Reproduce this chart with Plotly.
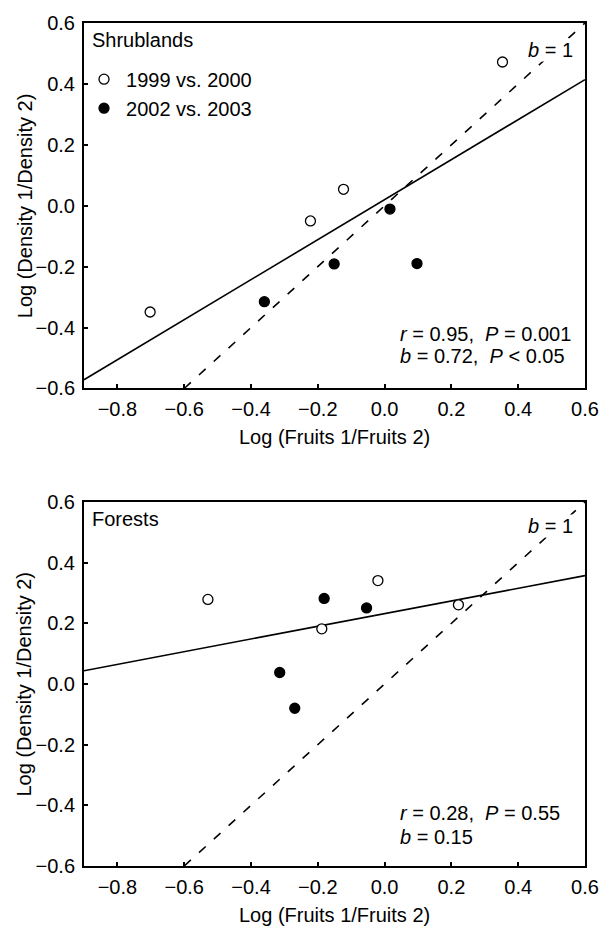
import plotly.graph_objects as go

# ---------------- data ----------------
panel_names = ["Shrublands", "Forests"]
series_names = ["1999 vs. 2000", "2002 vs. 2003"]

shrub_x_9900 = [-0.702, -0.222, -0.123, 0.353]
shrub_y_9900 = [-0.349, -0.050, 0.054, 0.472]
shrub_x_0203 = [-0.360, -0.151, 0.016, 0.097]
shrub_y_0203 = [-0.315, -0.191, -0.011, -0.190]

forest_x_9900 = [-0.529, -0.188, -0.020, 0.221]
forest_y_9900 = [0.279, 0.182, 0.341, 0.261]
forest_x_0203 = [-0.314, -0.269, -0.181, -0.054]
forest_y_0203 = [0.038, -0.080, 0.282, 0.251]

# fitted lines (slope, intercept) as drawn
fit_slope = [0.657, 0.209]
fit_intercept = [0.020, 0.232]
fit_x = [-0.9, 0.6]
one_to_one_x = [-0.6, 0.6]

stats_lines = [
    ["<i>r</i> = 0.95,  <i>P</i> = 0.001", "<i>b</i> = 0.72,  <i>P</i> &lt; 0.05"],
    ["<i>r</i> = 0.28,  <i>P</i> = 0.55", "<i>b</i> = 0.15"],
]

x_ticks = [-0.8, -0.6, -0.4, -0.2, 0.0, 0.2, 0.4, 0.6]
y_ticks = [-0.6, -0.4, -0.2, 0.0, 0.2, 0.4, 0.6]
x_title = "Log (Fruits 1/Fruits 2)"
y_title = "Log (Density 1/Density 2)"

# ---------------- figure ----------------
FONT = "Liberation Sans, Arial, Helvetica, sans-serif"
FS = 20
fig = go.Figure()

panels = [
    (shrub_x_9900, shrub_y_9900, shrub_x_0203, shrub_y_0203),
    (forest_x_9900, forest_y_9900, forest_x_0203, forest_y_0203),
]
axes = [("x", "y"), ("x2", "y2")]

for i, (xo, yo, xf, yf) in enumerate(panels):
    xa, ya = axes[i]
    # 1:1 line
    fig.add_trace(go.Scatter(
        x=one_to_one_x, y=one_to_one_x, mode="lines", xaxis=xa, yaxis=ya,
        line=dict(color="black", width=1.6, dash="9px,11px"),
        showlegend=False, hoverinfo="skip"))
    # fitted line
    fy = [fit_intercept[i] + fit_slope[i] * v for v in fit_x]
    fig.add_trace(go.Scatter(
        x=fit_x, y=fy, mode="lines", xaxis=xa, yaxis=ya,
        line=dict(color="black", width=1.6),
        showlegend=False, hoverinfo="skip"))
    fig.add_trace(go.Scatter(
        x=xo, y=yo, mode="markers", xaxis=xa, yaxis=ya, name=series_names[0],
        marker=dict(symbol="circle", size=10, color="white",
                    line=dict(color="black", width=1.3)),
        showlegend=(i == 0), cliponaxis=False))
    fig.add_trace(go.Scatter(
        x=xf, y=yf, mode="markers", xaxis=xa, yaxis=ya, name=series_names[1],
        marker=dict(symbol="circle", size=10, color="black",
                    line=dict(color="black", width=1.3)),
        showlegend=(i == 0), cliponaxis=False))

ax_common = dict(
    showline=True, mirror=True, linecolor="black", linewidth=2,
    ticks="inside", ticklen=4, tickwidth=1.5, tickcolor="black",
    showgrid=False, zeroline=False, tickformat=".1f",
    tickfont=dict(family=FONT, size=FS, color="black"),
)

L, R, T, B = 84, 24, 16, 63
H = 929
plot_h = H - T - B
top_dom = [(H - B - 384.5) / plot_h, 1.0]
bot_dom = [0.0, (H - B - 499) / plot_h]

fig.update_layout(
    width=611, height=929,
    margin=dict(l=L, r=R, t=T, b=B),
    paper_bgcolor="white", plot_bgcolor="white",
    font=dict(family=FONT, size=FS, color="black"),
    xaxis=dict(ax_common, range=[-0.9, 0.6], tickvals=x_ticks, anchor="y",
               ticklabelstandoff=2),
    yaxis=dict(ax_common, range=[-0.6, 0.6], tickvals=y_ticks, domain=top_dom,
               anchor="x", ticklabelstandoff=3),
    xaxis2=dict(ax_common, range=[-0.9, 0.6], tickvals=x_ticks, anchor="y2",
                ticklabelstandoff=2),
    yaxis2=dict(ax_common, range=[-0.6, 0.6], tickvals=y_ticks, domain=bot_dom,
                anchor="x2", ticklabelstandoff=3),
    legend=dict(x=-2 / 503, y=(H - B - 53) / plot_h, xanchor="left", yanchor="top",
                bgcolor="rgba(0,0,0,0)", font=dict(family=FONT, size=FS, color="black"),
                itemsizing="trace", itemwidth=34),
    showlegend=True,
)

ann = []
for i, (xa, ya) in enumerate(axes):
    xd = xa + " domain"
    yd = ya + " domain"
    # panel name
    ann.append(dict(text=panel_names[i], xref=xd, yref=yd, x=0, y=1,
                    xanchor="left", yanchor="middle", xshift=6,
                    yshift=-16.5 if i == 0 else -16.7, showarrow=False))
    # b = 1 label (white box masks the dashed line behind it)
    ann.append(dict(text="<i>b</i> = 1", xref=xd, yref=yd, x=1, y=1,
                    xanchor="left", yanchor="middle", xshift=-58,
                    yshift=-26.5 if i == 0 else -23.7, showarrow=False,
                    bgcolor="white", borderpad=0))
    # stats
    shifts = [(54.5, 32.5), (53, 29.3)][i]
    for j, line in enumerate(stats_lines[i]):
        ann.append(dict(text=line, xref=xd, yref=yd, x=0, y=0,
                        xanchor="left", yanchor="middle", xshift=313.5,
                        yshift=shifts[j], showarrow=False))
    # axis titles
    ann.append(dict(text=x_title, xref=xd, yref=yd, x=0.5, y=0,
                    xanchor="center", yanchor="middle", yshift=-49, showarrow=False))
    ann.append(dict(text=y_title, xref=xd, yref=yd, x=0, y=0.5, textangle=-90,
                    xanchor="center", yanchor="middle", xshift=-59.5, showarrow=False))

fig.update_layout(annotations=ann)
fig.write_html("out.html", config={"displayModeBar": False},
               post_script="document.body.style.margin='0';document.body.style.overflow='hidden';")
